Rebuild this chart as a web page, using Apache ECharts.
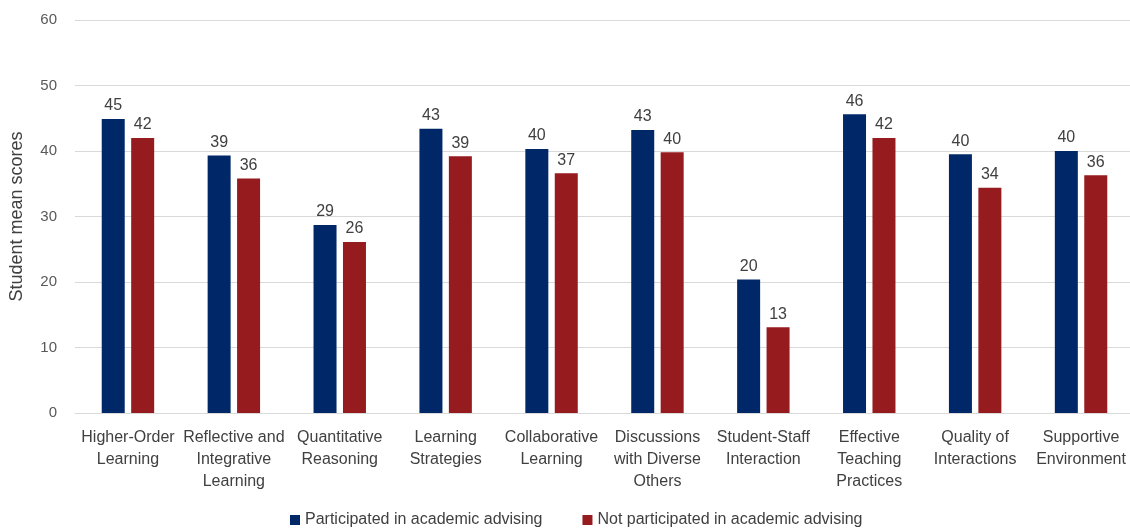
<!DOCTYPE html>
<html>
<head>
<meta charset="utf-8">
<script src="https://cdn.jsdelivr.net/npm/echarts@6/dist/echarts.min.js"></script>
<style>
  html, body { margin: 0; padding: 0; background: #fff; }
  #chart { width: 1130px; height: 530px; }
</style>
</head>
<body>
<div id="chart"></div>
<script>
// categories along x axis
var categories = [
  'Higher-Order\nLearning',
  'Reflective and\nIntegrative\nLearning',
  'Quantitative\nReasoning',
  'Learning\nStrategies',
  'Collaborative\nLearning',
  'Discussions\nwith Diverse\nOthers',
  'Student-Staff\nInteraction',
  'Effective\nTeaching\nPractices',
  'Quality of\nInteractions',
  'Supportive\nEnvironment'
];
// mean scores
var participated = [44.9, 39.3, 28.7, 43.4, 40.3, 43.2, 20.4, 45.6, 39.5, 40.0];
var notParticipated = [42.0, 35.8, 26.1, 39.2, 36.6, 39.8, 13.1, 42.0, 34.4, 36.3];
var seriesNames = ['Participated in academic advising', 'Not participated in academic advising'];
var yTicks = [0, 10, 20, 30, 40, 50, 60];

var chart = echarts.init(document.getElementById('chart'));

var labelStyle = {
  show: true,
  position: 'top',
  distance: 5,
  color: '#404040',
  fontSize: 16,
  fontFamily: 'Liberation Sans',
  formatter: function (p) { return Math.round(p.value); }
};

var option = {
  animation: false,
  textStyle: { fontFamily: 'Liberation Sans' },
  grid: {   // plot area
    left: 75,
    right: -4,
    top: 20,
    bottom: 117,
    outerBoundsMode: 'none'
  },
  legend: {
    bottom: -3,
    left: 285,
    itemWidth: 10,
    itemHeight: 10,
    itemGap: 40,
    icon: 'rect',
    textStyle: { color: '#404040', fontSize: 16, fontFamily: 'Liberation Sans' },
    data: seriesNames
  },
  xAxis: {
    type: 'category',
    data: categories,
    axisTick: { show: false },
    axisLine: { lineStyle: { color: '#d9d9d9', width: 1 } },
    axisLabel: {
      interval: 0,
      color: '#404040',
      fontSize: 16,
      lineHeight: 22,
      margin: 14,
      fontFamily: 'Liberation Sans'
    }
  },
  yAxis: {
    type: 'value',
    min: yTicks[0],
    max: yTicks[yTicks.length - 1],
    interval: 10,
    name: 'Student mean scores',
    nameLocation: 'middle',
    nameGap: 49,
    nameTextStyle: { color: '#404040', fontSize: 18, fontFamily: 'Liberation Sans' },
    axisLine: { show: false },
    axisTick: { show: false },
    axisLabel: { color: '#595959', fontSize: 15, margin: 18, fontFamily: 'Liberation Sans' },
    splitLine: { lineStyle: { color: '#d9d9d9', width: 1 } }
  },
  series: [
    {
      name: seriesNames[0],
      type: 'bar',
      data: participated,
      barWidth: 23,
      barGap: '28%',
      itemStyle: { color: '#002868' },
      label: labelStyle
    },
    {
      name: seriesNames[1],
      type: 'bar',
      data: notParticipated,
      barWidth: 23,
      itemStyle: { color: '#961b1f' },
      label: labelStyle
    }
  ]
};

chart.setOption(option);
</script>
</body>
</html>
